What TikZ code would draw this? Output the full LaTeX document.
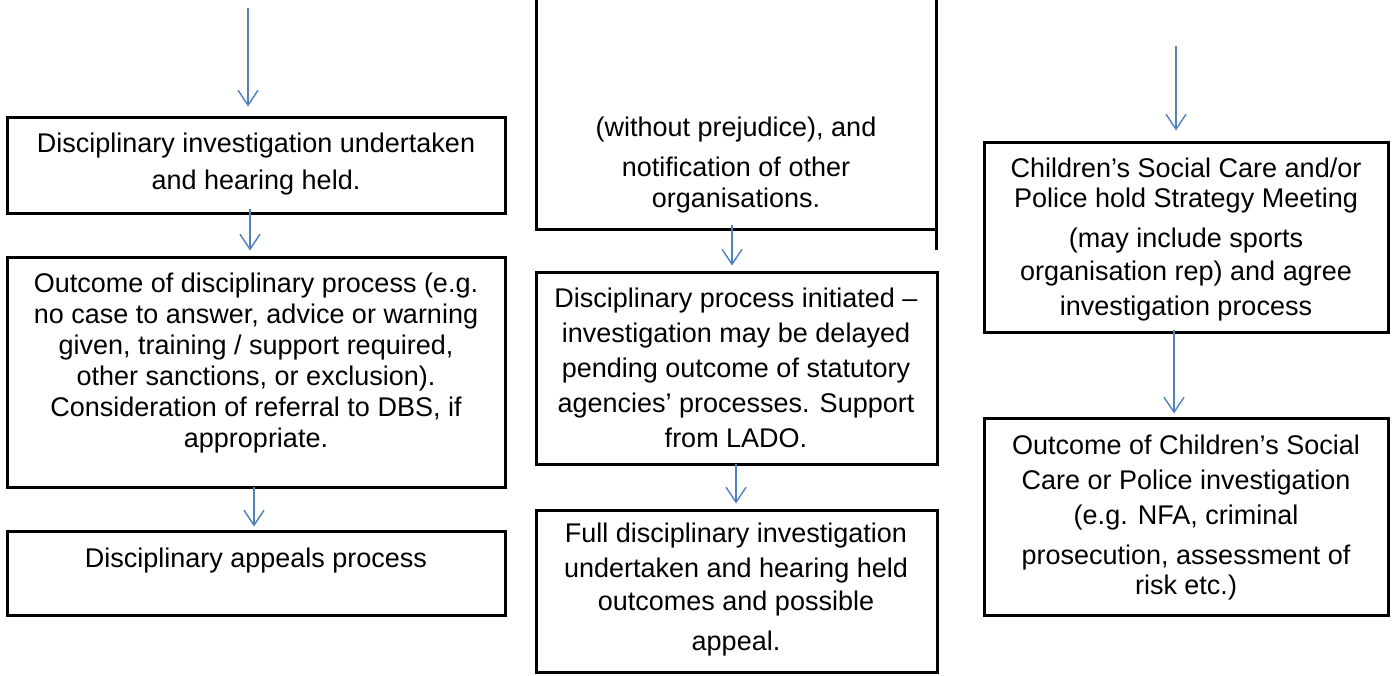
\documentclass[tikz,border=0pt]{standalone}
\usepackage{fontspec}
\setmainfont{Liberation Sans}
\usetikzlibrary{arrows.meta,calc}
\definecolor{arrblue}{HTML}{4F81BD}
\begin{document}
\begin{tikzpicture}[x=0.5pt,y=-0.5pt,
  box/.style={draw=black,line width=1.5pt,inner sep=0pt,minimum width=#1},
  txt/.style={inner sep=0pt,align=center,text=black},
  arr/.style={draw=arrblue,line width=0.7pt,-{Straight Barb[length=7.5pt,width=10pt,line width=0.7pt]}}]
\useasboundingbox (0,0) rectangle (1396,675);
% left column
\node[box=249pt,minimum height=48pt] (L1) at (256,165) {};
\node[box=249pt,minimum height=115pt] (L2) at (256,372) {};
\node[box=249pt,minimum height=42pt] (L3) at (256,573) {};
\node[txt,font=\fontsize{13.5}{18.5}\selectfont] (tL1) at (256,164) {Disciplinary investigation undertaken\\and hearing held.};
\node[txt,font=\fontsize{13.5}{15.5}\selectfont] (tL2) at (256,363) {Outcome of disciplinary process (e.g.\\no case to answer, advice or warning\\given, training / support required,\\other sanctions, or exclusion).\\Consideration of referral to DBS, if\\appropriate.};
\node[txt,font=\fontsize{13.5}{14.4}\selectfont] (tL3) at (256,561) {Disciplinary appeals process};
% middle column
\draw[line width=1.5pt] (536,0) -- (536,229) -- (936,229);
\draw[line width=1.5pt] (936,0) -- (936,250);
\coordinate (M1s) at (736,229);
\node[box=200.5pt,minimum height=96pt] (M2) at (736.5,368) {};
\node[box=200.5pt,minimum height=81pt] (M3) at (736.5,591) {};
\node[txt,font=\fontsize{13.5}{15.5}\selectfont] (tM1) at (736,165.5) {(without prejudice), and\\[4.5pt]notification of other\\organisations.};
\node[txt,font=\fontsize{13.5}{17.5}\selectfont] (tM2) at (736,367.5) {Disciplinary process initiated --\\investigation may be delayed\\pending outcome of statutory\\agencies’ processes. Support\\from LADO.};
\node[txt,font=\fontsize{13.5}{16.5}\selectfont] (tM3) at (736,589.5) {Full disciplinary investigation\\[1pt]undertaken and hearing held\\outcomes and possible\\[3.5pt]appeal.};
% right column
\node[box=202pt,minimum height=95pt] (R1) at (1186,237) {};
\node[box=202pt,minimum height=98.5pt] (R2) at (1186,516.5) {};
\node[txt,font=\fontsize{13.5}{15}\selectfont] (tR1) at (1186,240) {Children’s Social Care and/or\\Police hold Strategy Meeting\\[5pt](may include sports\\[1.5pt]organisation rep) and agree\\[2.5pt]investigation process};
\node[txt,font=\fontsize{13.5}{15}\selectfont] (tR2) at (1186,518) {Outcome of Children’s Social\\[2.5pt]Care or Police investigation\\[2.5pt](e.g. NFA, criminal\\[5pt]prosecution, assessment of\\risk etc.)};
% arrows
\coordinate (Ltop) at (248,8);
\coordinate (Rtop) at (1176,46);
\draw[arr] (Ltop) -- ([shift={(-8,-9)}]L1.north);
\draw[arr] ([shift={(-6,-6)}]L1.south) -- ([shift={(-6,-5)}]L2.north);
\draw[arr] ([shift={(-2,-2)}]L2.south) -- ([shift={(-2,-3)}]L3.north);
\draw[arr] ([shift={(-4,-4)}]M1s) -- ([shift={(-4.5,-5)}]M2.north);
\draw[arr] ([shift={(-0.5,-2)}]M2.south) -- ([shift={(-0.5,-5)}]M3.north);
\draw[arr] (Rtop) -- ([shift={(-10,-10)}]R1.north);
\draw[arr] ([shift={(-12,-4)}]R1.south) -- ([shift={(-12,-3)}]R2.north);
\end{tikzpicture}
\end{document}
